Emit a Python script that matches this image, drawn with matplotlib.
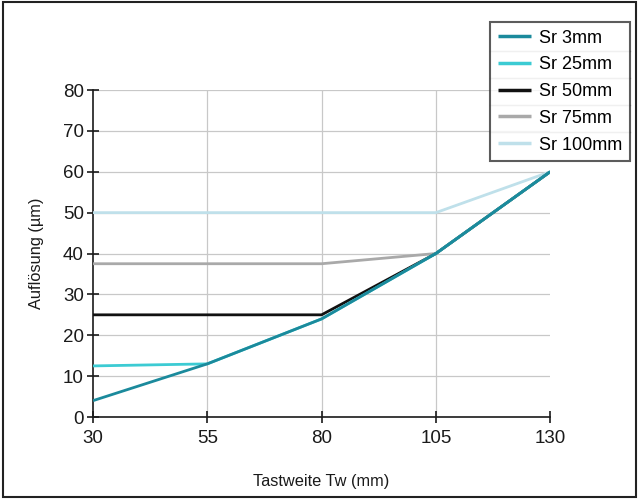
"""Auflösung vs. Tastweite chart."""
import matplotlib
matplotlib.use("Agg")
import matplotlib.pyplot as plt
from matplotlib.lines import Line2D
from matplotlib.patches import Rectangle

plt.rcParams["font.family"] = ["Liberation Sans", "DejaVu Sans"]

tastweite = [30, 55, 80, 105, 130]
sr_3 = [4, 13, 24, 40, 60]
sr_25 = [12.5, 13, 24, 40, 60]
sr_50 = [25, 25, 25, 40, 60]
sr_75 = [37.5, 37.5, 37.5, 40, 60]
sr_100 = [50, 50, 50, 50, 60]
labels = ["Sr 3mm", "Sr 25mm", "Sr 50mm", "Sr 75mm", "Sr 100mm"]

COLORS = ["#1b8a9c", "#3ccbd3", "#111111", "#a9a9a9", "#bfe0ea"]
GRID = "#c8c8c8"
INK = "#1a1a1a"

fig = plt.figure(figsize=(6.39, 4.99), dpi=100, facecolor="white")
ax = fig.add_axes([0.1455, 0.1643, 0.7155, 0.6553])

series = [sr_3, sr_25, sr_50, sr_75, sr_100]
handles = []
for i in reversed(range(len(series))):
    (ln,) = ax.plot(tastweite, series[i], color=COLORS[i], lw=2.0,
                    label=labels[i], zorder=3 + (5 - i) * 0.1,
                    solid_capstyle="butt")
    handles.append(ln)
handles = handles[::-1]

ax.set_xlim(30, 130)
ax.set_ylim(0, 80)
ax.set_xticks(tastweite)
ax.set_yticks(range(0, 81, 10))
ax.tick_params(direction="inout", length=9, width=1.2, labelsize=13.5,
               colors=INK, pad=2)
ax.tick_params(axis="x", pad=5)
for s in ("top", "right"):
    ax.spines[s].set_visible(False)
for s in ("left", "bottom"):
    ax.spines[s].set_linewidth(1.2)
    ax.spines[s].set_color(INK)
ax.grid(True, color=GRID, lw=0.9, zorder=0)
ax.set_axisbelow(True)
ax.get_xgridlines()[-1].set_visible(False)
ax.get_xgridlines()[0].set_visible(False)

ax.set_xlabel("Tastweite Tw (mm)", fontsize=11.8, labelpad=19, color=INK)
ax.set_ylabel("Auflösung (µm)", fontsize=11.8, labelpad=14, color=INK)

leg = fig.legend(handles, labels, loc="upper left",
                 bbox_to_anchor=(0.767, 0.956), fontsize=13,
                 frameon=True, fancybox=False, edgecolor="#333333",
                 handlelength=1.85, handletextpad=0.45, labelspacing=0.54,
                 borderpad=0.42, borderaxespad=0)
leg.get_frame().set_linewidth(1.5)
for lh in leg.get_lines():
    lh.set_linewidth(2.5)

# separator lines between legend rows
fig.canvas.draw()
inv = fig.transFigure.inverted()
fb = leg.get_frame().get_window_extent()
texts = leg.get_texts()
for a, b in zip(texts[:-1], texts[1:]):
    ya = a.get_window_extent().y0
    yb = b.get_window_extent().y1
    ymid = (ya + yb) / 2
    (x0, y0) = inv.transform((fb.x0, ymid))
    (x1, _) = inv.transform((fb.x1, ymid))
    fig.add_artist(Line2D([x0, x1], [y0, y0], color="#b5b5b5", lw=1.0))

# outer border
fig.add_artist(Rectangle((0.004, 0.005), 0.992, 0.99, transform=fig.transFigure,
                         fill=False, edgecolor="#222222", lw=1.5))

fig.savefig("out.png", dpi=100, facecolor="white")
